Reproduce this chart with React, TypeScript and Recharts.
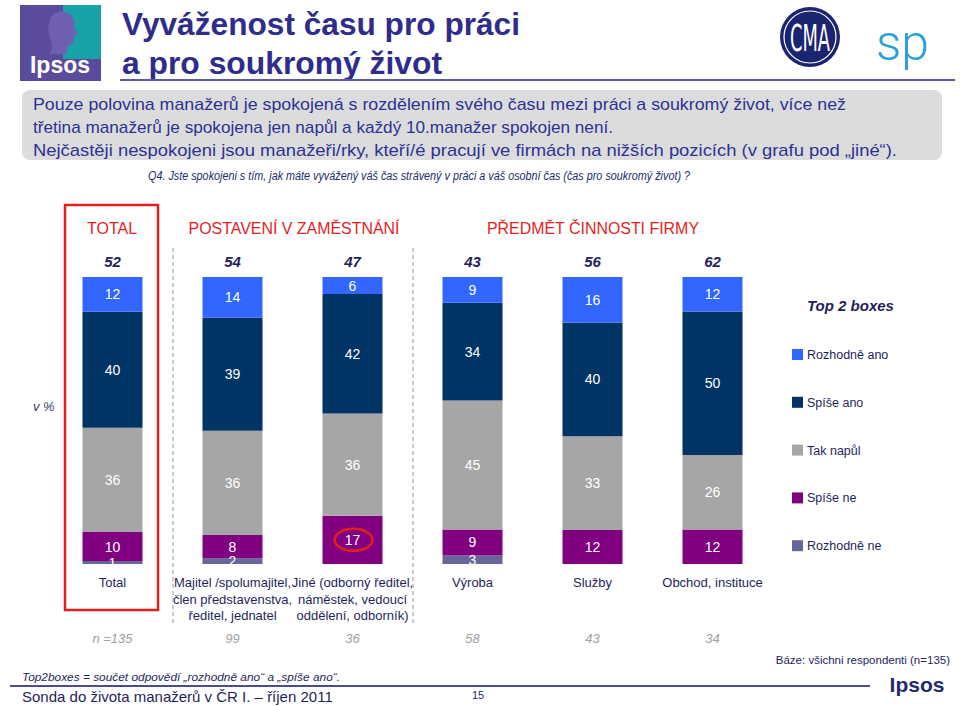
import { BarChart, Bar, XAxis, YAxis, LabelList } from "recharts";

const FONT = '"Liberation Sans", Arial, Helvetica, sans-serif';

const categories = ["Total", "Majitel", "Jiné", "Výroba", "Služby", "Obchod, instituce"];
const categoryLines = [
  ["Total"],
  ["Majitel /spolumajitel,", "člen představenstva,", "ředitel, jednatel"],
  ["Jiné (odborný ředitel,", "náměstek, vedoucí", "oddělení, odborník)"],
  ["Výroba"],
  ["Služby"],
  ["Obchod, instituce"],
];
const rozhodneAno = [12, 14, 6, 9, 16, 12];
const spiseAno = [40, 39, 42, 34, 40, 50];
const takNapul = [36, 36, 36, 45, 33, 26];
const spiseNe = [10, 8, 17, 9, 12, 12];
const rozhodneNe = [1, 2, 0, 3, 0, 0];
const top2 = [52, 54, 47, 43, 56, 62];
const nCounts = [135, 99, 36, 58, 43, 34];
const highlightIndex = 2; // "Jiné" – spíše ne circled

// stacked bottom to top
const series = [
  { key: "rozhodneNe", name: "Rozhodně ne", color: "#666699" },
  { key: "spiseNe", name: "Spíše ne", color: "#800080" },
  { key: "takNapul", name: "Tak napůl", color: "#a6a6a6" },
  { key: "spiseAno", name: "Spíše ano", color: "#003366" },
  { key: "rozhodneAno", name: "Rozhodně ano", color: "#3366ff" },
];

const data = categories.map((cat, i) => ({
  cat,
  rozhodneAno: rozhodneAno[i],
  spiseAno: spiseAno[i],
  takNapul: takNapul[i],
  spiseNe: spiseNe[i],
  rozhodneNe: rozhodneNe[i],
  top2: top2[i],
}));

const NAVY = "#1f1f5c";
const RED = "#e41e1e";

function CategoryTick(props: any) {
  const { x, y, payload } = props;
  const i = payload.index;
  return (
    <g fontFamily={FONT}>
      {categoryLines[i].map((line, k) => (
        <text key={k} x={x} y={y + 23 + k * 16.5} textAnchor="middle" fontSize={13} fill={NAVY}>
          {line}
        </text>
      ))}
      <text x={x} y={y + 79} textAnchor="middle" fontSize={13} fontStyle="italic" fill="#a0a0a0">
        {i === 0 ? `n =${nCounts[i]}` : nCounts[i]}
      </text>
    </g>
  );
}

function SegmentLabel(props: any) {
  const { x, y, width, height, value, index, highlight } = props;
  if (!value) return null;
  const cx = x + width / 2;
  const cy = y + height / 2;
  return (
    <g>
      {highlight && index === highlightIndex && (
        <ellipse cx={cx + 1} cy={cy} rx={19} ry={11} fill="none" stroke={RED} strokeWidth={2.5} />
      )}
      <text x={cx} y={cy + 5} textAnchor="middle" fontSize={14} fill="#ffffff" fontFamily={FONT}>
        {value}
      </text>
    </g>
  );
}

function LegendLayer() {
  const items = [...series].reverse();
  return (
    <g fontFamily={FONT} fill={NAVY}>
      <text x={807} y={311} fontSize={15} fontWeight="bold" fontStyle="italic">Top 2 boxes</text>
      {items.map((s, k) => (
        <g key={s.key}>
          <rect x={792} y={349 + k * 47.8} width={11} height={11} fill={s.color} />
          <text x={807} y={359 + k * 47.8} fontSize={12.5}>{s.name}</text>
        </g>
      ))}
    </g>
  );
}

function Overlay() {
  return (
    <svg width={960} height={706} style={{ position: "absolute", left: 0, top: 0, pointerEvents: "none" }} fontFamily={FONT}>
      {/* Ipsos logo */}
      <rect x={20} y={5} width={81} height={76} fill="#5b4b9c" />
      <rect x={63} y={5} width={38} height={54} fill="#17a2a6" />
      <path d="M52 16 Q60 8 70 14 Q76 20 74 28 L78 34 L74 36 Q75 44 68 46 L66 54 L50 54 Q54 46 50 38 Q46 24 52 16 Z" fill="#6f5fb0" />
      <text x={60} y={73} textAnchor="middle" fontSize={23} fontWeight="bold" fill="#ffffff">Ipsos</text>

      {/* title */}
      <text x={122} y={35} fontSize={32} fontWeight="bold" fill="#2f2c8c" textLength={398} lengthAdjust="spacingAndGlyphs">Vyváženost času pro práci</text>
      <text x={122} y={74} fontSize={32} fontWeight="bold" fill="#2f2c8c" textLength={320} lengthAdjust="spacingAndGlyphs">a pro soukromý život</text>
      <line x1={120} y1={80} x2={955} y2={80} stroke="#5e5a9e" strokeWidth={2} />

      {/* CMA logo */}
      <circle cx={810} cy={37} r={30} fill="#1b2470" />
      <circle cx={810} cy={37} r={26} fill="none" stroke="#ffffff" strokeWidth={1.2} />
      <text x={810} y={51} textAnchor="middle" fontSize={38} fill="#ffffff" fontFamily='"Liberation Sans Narrow", "DejaVu Sans Condensed", sans-serif' textLength={40} lengthAdjust="spacingAndGlyphs">CMA</text>
      {/* sp logo */}
      <text x={876} y={60} fontSize={50} fill="#2a9fd8" fontFamily="Roboto, sans-serif" fontWeight={300}>sp</text>

      {/* summary box */}
      <rect x={22} y={90} width={920} height={70} rx={8} fill="#dcdcdc" />
      <text x={33} y={110} fontSize={17} fill="#2c3296" textLength={813} lengthAdjust="spacingAndGlyphs">Pouze polovina manažerů je spokojená s rozdělením svého času mezi práci a soukromý život, více než</text>
      <text x={33} y={133} fontSize={17} fill="#2c3296" textLength={580} lengthAdjust="spacingAndGlyphs">třetina manažerů je spokojena jen napůl a každý 10.manažer spokojen není.</text>
      <text x={33} y={156} fontSize={17} fill="#2c3296" textLength={864} lengthAdjust="spacingAndGlyphs">Nejčastěji nespokojeni jsou manažeři/rky, kteří/é pracují ve firmách na nižších pozicích (v grafu pod „jiné“).</text>
      <text x={148} y={180} fontSize={12} fontStyle="italic" fill="#1b2b6b" textLength={542} lengthAdjust="spacingAndGlyphs">Q4. Jste spokojeni s tím, jak máte vyvážený váš čas strávený v práci a váš osobní čas (čas pro soukromý život) ?</text>

      {/* group frames */}
      <rect x={65} y={205} width={93} height={405} fill="none" stroke={RED} strokeWidth={2.5} />
      <line x1={173} y1={248} x2={173} y2={625} stroke="#999999" strokeDasharray="4 3" />
      <line x1={413} y1={248} x2={413} y2={625} stroke="#999999" strokeDasharray="4 3" />
      <text x={112} y={234} textAnchor="middle" fontSize={16} fill={RED}>TOTAL</text>
      <text x={294} y={234} textAnchor="middle" fontSize={16} fill={RED} textLength={211} lengthAdjust="spacingAndGlyphs">POSTAVENÍ V ZAMĚSTNÁNÍ</text>
      <text x={593} y={234} textAnchor="middle" fontSize={16} fill={RED} textLength={212} lengthAdjust="spacingAndGlyphs">PŘEDMĚT ČINNOSTI FIRMY</text>
      <text x={33} y={411} fontSize={13} fontStyle="italic" fill="#3a3a6a">v %</text>

      <LegendLayer />

      {/* footer */}
      <text x={950} y={664} textAnchor="end" fontSize={11.5} fill={NAVY}>Báze: všichni respondenti (n=135)</text>
      <text x={22} y={681} fontSize={11} fontStyle="italic" fill={NAVY} textLength={318} lengthAdjust="spacingAndGlyphs">Top2boxes = součet odpovědí „rozhodně ano“ a „spíše ano“.</text>
      <line x1={10} y1={686} x2={870} y2={686} stroke="#4d4a8e" strokeWidth={2} />
      <text x={22} y={702} fontSize={15} fill={NAVY}>Sonda do života manažerů  v ČR I. – říjen 2011</text>
      <text x={478} y={699} textAnchor="middle" fontSize={11} fill={NAVY}>15</text>
      <text x={917} y={692} textAnchor="middle" fontSize={21} fontWeight="bold" fill="#1f2b6e">Ipsos</text>
    </svg>
  );
}

export default function App() {
  return (
    <div style={{ position: "relative", width: 960, height: 706, background: "#ffffff", fontFamily: FONT }}>
      <style>{"body{margin:0}"}</style>
      <BarChart
        width={960}
        height={706}
        data={data}
        stackOffset="expand"
        barCategoryGap="25%"
        margin={{ top: 277, right: 187.5, bottom: 82, left: 52.5 }}
      >
        <XAxis
          dataKey="cat"
          height={60}
          axisLine={false}
          tickLine={false}
          tickSize={0}
          tickMargin={0}
          interval={0}
          tick={<CategoryTick />}
        />
        <YAxis hide domain={[0, 1]} />
        {series.map((s) => (
          <Bar key={s.key} dataKey={s.key} name={s.name} stackId="a" fill={s.color} isAnimationActive={false}>
            <LabelList dataKey={s.key} content={<SegmentLabel highlight={s.key === "spiseNe"} />} />
            {s.key === "rozhodneAno" && (
              <LabelList
                dataKey="top2"
                position="top"
                offset={10}
                fill={NAVY}
                fontSize={15}
                fontWeight="bold"
                fontStyle="italic"
                fontFamily={FONT}
              />
            )}
          </Bar>
        ))}
      </BarChart>
      <Overlay />
    </div>
  );
}
